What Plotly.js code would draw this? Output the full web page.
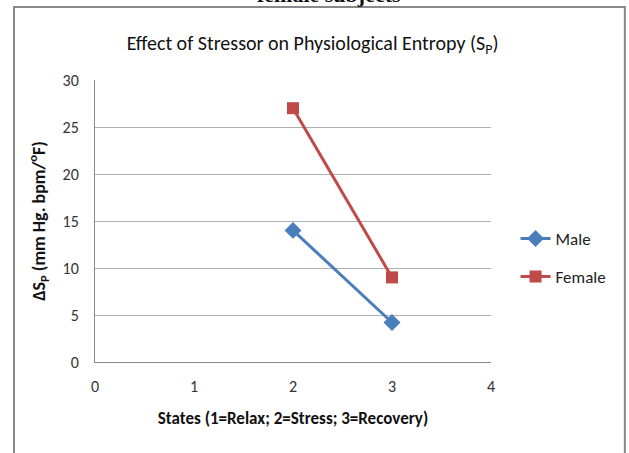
<!DOCTYPE html>
<html>
<head>
<meta charset="utf-8">
<script src="https://cdn.plot.ly/plotly-3.0.1.min.js"></script>
<style>html,body{margin:0;padding:0;background:#fff;}#chart{width:629px;height:453px;}</style>
</head>
<body>
<div id="chart"></div>
<script>
const states = [2, 3];
const male = [14, 4.2];
const female = [27, 9];
const seriesNames = ["Male", "Female"];
const xTicks = [0, 1, 2, 3, 4];
const yTicks = [0, 5, 10, 15, 20, 25, 30];

const font = "Carlito, 'Liberation Sans Narrow', 'Open Sans', sans-serif";

const traces = [
  {x: states, y: male, name: seriesNames[0], legendgroup: "m", type: "scatter", mode: "lines+markers",
   line: {color: "#4A7EBB", width: 3}, marker: {symbol: "diamond", size: 13, color: "#4A7EBB"}},
  {x: states, y: female, name: seriesNames[1], legendgroup: "f", type: "scatter", mode: "lines+markers",
   line: {color: "#BE4B48", width: 3}, marker: {symbol: "square", size: 12, color: "#BE4B48"}}
];

const layout = {
  width: 629, height: 453,
  margin: {l: 95, r: 138, t: 80, b: 91},
  paper_bgcolor: "#fff", plot_bgcolor: "#fff",
  font: {family: font, color: "#222", size: 16},
  title: {text: "Effect of Stressor on Physiological Entropy (S<sub>P</sub>)",
          font: {family: font, size: 20, color: "#111"},
          x: 0.497, xanchor: "center", y: 0.905, yanchor: "middle"},
  xaxis: {range: [0, 4], tickvals: xTicks, showgrid: false, zeroline: false,
          showline: true, linecolor: "#888", linewidth: 1, ticks: "", ticklen: 0,
          ticklabelstandoff: 10,
          tickfont: {family: font, size: 16, color: "#333"},
          title: {text: "<b>States (1=Relax; 2=Stress; 3=Recovery)</b>", standoff: 16,
                  font: {family: font, size: 17, color: "#111"}}},
  yaxis: {range: [0, 30], tickvals: yTicks, showgrid: true, gridcolor: "#b0b0b0",
          zeroline: false, showline: true, linecolor: "#888", linewidth: 1,
          ticks: "", ticklabelstandoff: 12, tickfont: {family: font, size: 16, color: "#333"},
          title: {text: "<b>ΔS<sub>P</sub> (mm Hg. bpm/<sup>o</sup>F)</b>", standoff: 12,
                  font: {family: font, size: 18, color: "#111"}}},
  legend: {x: 1.062, y: 0.369, xanchor: "left", yanchor: "middle", traceorder: "grouped",
           font: {family: font, size: 17, color: "#222"}, tracegroupgap: 13,
           bgcolor: "rgba(0,0,0,0)"},
  shapes: [{type: "rect", xref: "paper", yref: "paper",
            x0: -0.2045, x1: 1.338, y0: -0.4, y1: 1.259,
            line: {color: "#888", width: 2}, layer: "below"}],
  annotations: [{text: "<b>female subjects</b>", xref: "paper", yref: "paper",
                 x: 0.59, y: 1.304, xanchor: "center", yanchor: "middle", showarrow: false,
                 font: {family: "'Liberation Serif', serif", size: 22, color: "#111"}}]
};

Plotly.newPlot("chart", traces, layout, {displayModeBar: false, staticPlot: true});
</script>
</body>
</html>
